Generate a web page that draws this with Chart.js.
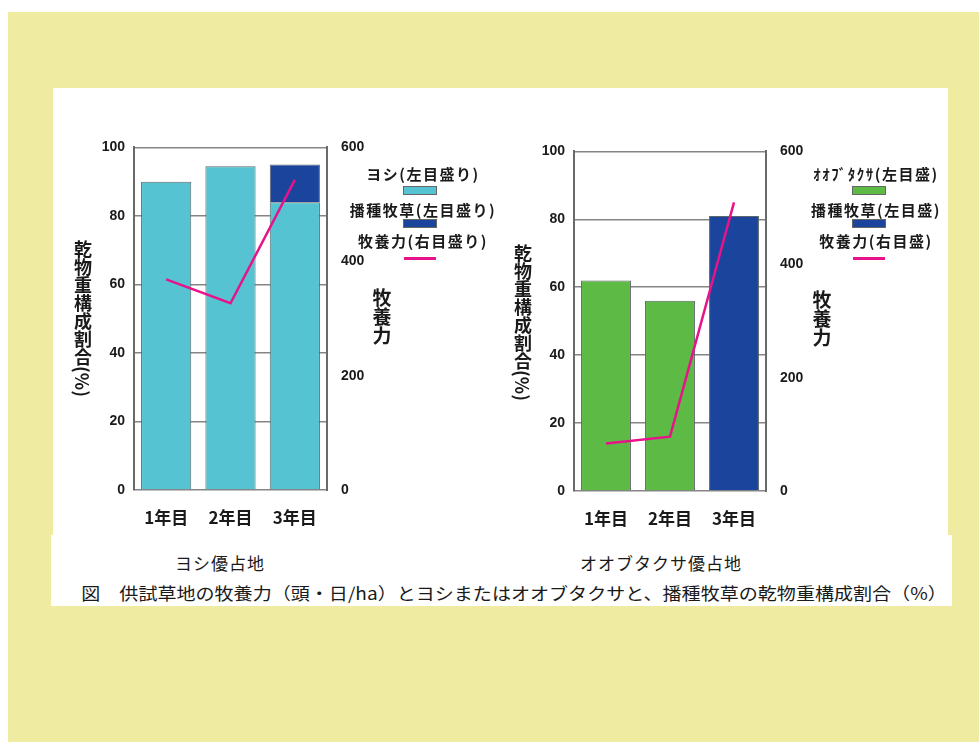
<!DOCTYPE html>
<html>
<head>
<meta charset="utf-8">
<script src="https://cdn.jsdelivr.net/npm/chart.js@4"></script>
<style>
  body { margin: 0; width: 979px; height: 742px; background: #fff; position: relative; overflow: hidden;
         font-family: "Noto Sans CJK JP", sans-serif; color: #1a1a1a; }
  #bg { position: absolute; left: 8px; top: 12px; right: 0; bottom: 0; background: #efeba1; }
  .panel { position: absolute; background: #fff; }
  canvas { position: absolute; }
  .txt { position: absolute; white-space: nowrap; }
  .leg { font-size: 15px; font-weight: bold; letter-spacing: 1.5px; transform: translate(-50%, -50%); }
  .vtitle { writing-mode: vertical-rl; font-weight: bold; transform: translateX(-50%); }
  .sw { position: absolute; border: 1px solid #666; box-sizing: border-box; }
  .ln { position: absolute; height: 3px; }
  .cap { font-size: 17px; transform: translate(-50%, -50%); }
</style>
</head>
<body>
<div id="bg"></div>
<div class="panel" style="left:53px;top:88px;width:895px;height:452px"></div>
<div class="panel" style="left:51px;top:535px;width:901px;height:71px"></div>
<canvas id="chartYoshi" width="320" height="410" style="left:60px;top:130px"></canvas>
<canvas id="chartObuta" width="319" height="407" style="left:500px;top:134px"></canvas>
<div id="labels"></div>
<script>
const categories = ['1年目', '2年目', '3年目'];

// ヨシ優占地
const yoshiShare = [90, 94.5, 84];
const sownShareA = [null, null, 11];
const capacityA = [369, 327, 543];

// オオブタクサ優占地
const obutaShare = [62, 56, null];
const sownShareB = [null, null, 81];
const capacityB = [84, 96, 510];

const shareMax = 100, shareStep = 20;
const capacityMax = 600, capacityStep = 200;

const legendA = ['ヨシ(左目盛り)', '播種牧草(左目盛り)', '牧養力(右目盛り)'];
const legendB = ['ｵｵﾌﾞﾀｸｻ(左目盛)', '播種牧草(左目盛)', '牧養力(右目盛)'];
const shareTitle = '乾物重構成割合(%)';
const capacityTitle = '牧養力';
const siteNames = ['ヨシ優占地', 'オオブタクサ優占地'];
const caption = '図　供試草地の牧養力（頭・日/ha）とヨシまたはオオブタクサと、播種牧草の乾物重構成割合（%）';

const cyan = '#55c3d1';
const blue = '#1b449c';
const green = '#5cba45';
const magenta = '#e8138a';

(function () {
    'use strict';

    Chart.defaults.font.family = '"Noto Sans CJK JP", "Liberation Sans", sans-serif';

    function makeChart(id, bars, line) {
        const ctx = document.getElementById(id);
        const tickFont = { family: '"Liberation Sans", Arial, sans-serif', size: 14, weight: 'bold' };
        return new Chart(ctx, {
            type: 'bar',
            data: {
                labels: categories,
                datasets: bars.map(b => ({
                    label: b.label,
                    data: b.data,
                    backgroundColor: b.color,
                    borderColor: '#5d6668',
                    borderWidth: 1,
                    yAxisID: 'y',
                    categoryPercentage: 1,
                    barPercentage: 0.78,
                    order: 2
                })).concat([{
                    type: 'line',
                    label: capacityTitle,
                    data: line,
                    yAxisID: 'y1',
                    borderColor: magenta,
                    borderWidth: 2.5,
                    pointRadius: 0,
                    tension: 0,
                    fill: false,
                    order: 1
                }])
            },
            options: {
                responsive: false,
                animation: false,
                devicePixelRatio: 1,
                layout: { padding: { top: 10, left: 0, right: 0, bottom: 0 } },
                plugins: { legend: { display: false }, tooltip: { enabled: false } },
                scales: {
                    x: {
                        stacked: true,
                        grid: { display: false },
                        border: { display: false },
                        ticks: { padding: 9, color: '#1a1a1a', font: { size: 17, weight: 'bold' } },
                        afterFit: s => { s.height = 50; }
                    },
                    y: {
                        stacked: true,
                        min: 0, max: shareMax,
                        ticks: { stepSize: shareStep, padding: 9, color: '#1a1a1a', font: tickFont },
                        grid: { color: '#858585', lineWidth: 1.5, drawTicks: false },
                        border: { color: '#6a6a6a', width: 2 },
                        afterFit: s => { s.width = 74; }
                    },
                    y1: {
                        position: 'right',
                        min: 0, max: capacityMax,
                        ticks: { stepSize: capacityStep, padding: 6, color: '#1a1a1a', font: tickFont },
                        grid: { display: false },
                        border: { color: '#6a6a6a', width: 2 },
                        afterFit: s => { s.width = 53; }
                    }
                }
            }
        });
    }

    makeChart('chartYoshi', [
        { label: legendA[0], data: yoshiShare, color: cyan },
        { label: legendA[1], data: sownShareA, color: blue }
    ], capacityA);

    makeChart('chartObuta', [
        { label: legendB[0], data: obutaShare, color: green },
        { label: legendB[1], data: sownShareB, color: blue }
    ], capacityB);

    const box = document.getElementById('labels');

    function addText(cls, text, x, y, extra) {
        const d = document.createElement('div');
        d.className = 'txt ' + cls;
        d.textContent = text;
        d.style.left = x + 'px';
        d.style.top = y + 'px';
        if (extra) Object.assign(d.style, extra);
        box.appendChild(d);
        return d;
    }

    function addLegend(labels, colors, cx, swX) {
        const textY = [173, 209, 240];
        const swY = [186, 219];
        labels.forEach((t, i) => addText('leg', t, cx, textY[i]));
        colors.forEach((c, i) => {
            const s = document.createElement('div');
            s.className = 'sw';
            Object.assign(s.style, { left: swX + 'px', top: swY[i] + 'px', width: '34px', height: '9px', background: c });
            box.appendChild(s);
        });
        const l = document.createElement('div');
        l.className = 'ln';
        Object.assign(l.style, { left: (swX + 1) + 'px', top: '257px', width: '32px', background: magenta });
        box.appendChild(l);
    }

    addLegend(legendA, [cyan, blue], 423, 403);
    addLegend(legendB, [green, blue], 876, 852);

    addText('vtitle', shareTitle, 83, 240, { fontSize: '18px' });
    addText('vtitle', shareTitle, 523, 244, { fontSize: '18px' });
    addText('vtitle', capacityTitle, 382, 288, { fontSize: '19px' });
    addText('vtitle', capacityTitle, 822, 290, { fontSize: '19px' });

    addText('cap', siteNames[0], 220, 562, { letterSpacing: '1px' });
    addText('cap', siteNames[1], 661, 562, { letterSpacing: '1px' });

    const capEl = addText('cap', caption, 514, 592);
    const w = capEl.offsetWidth;
    capEl.style.transform = 'translate(-50%, -50%) scaleX(' + (866 / w) + ')';
})();
</script>
</body>
</html>
